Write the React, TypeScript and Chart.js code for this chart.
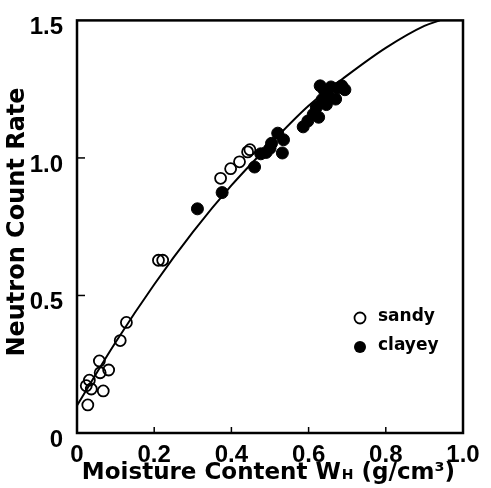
import React, { useEffect, useRef } from "react";
import { Chart, registerables } from "chart.js";
Chart.register(...registerables);

// Fitted calibration curve
const curveX = [0, 0.1, 0.2, 0.3, 0.4, 0.5, 0.6, 0.7, 0.8, 0.9, 0.94];
const curveY = [0.1, 0.33, 0.54, 0.73, 0.9, 1.05, 1.19, 1.3, 1.4, 1.48, 1.5];

// sandy soils (open circles)
const sandyX = [0.128, 0.112, 0.058, 0.082, 0.06, 0.032, 0.024, 0.037, 0.068, 0.028, 0.211, 0.222, 0.372, 0.398, 0.421, 0.442, 0.448];
const sandyY = [0.402, 0.336, 0.262, 0.229, 0.219, 0.192, 0.172, 0.16, 0.153, 0.102, 0.628, 0.628, 0.926, 0.961, 0.986, 1.022, 1.03];

// clayey soils (filled circles)
const clayeyX = [0.312, 0.376, 0.46, 0.476, 0.49, 0.5, 0.504, 0.52, 0.535, 0.532, 0.586, 0.598, 0.612, 0.62, 0.626, 0.635, 0.64, 0.65, 0.658, 0.67, 0.676, 0.686, 0.694, 0.63, 0.646];
const clayeyY = [0.815, 0.874, 0.967, 1.015, 1.02, 1.035, 1.053, 1.09, 1.066, 1.018, 1.113, 1.134, 1.158, 1.184, 1.148, 1.212, 1.247, 1.228, 1.258, 1.214, 1.254, 1.262, 1.248, 1.262, 1.194];

const xTicks = [0, 0.2, 0.4, 0.6, 0.8, 1.0];
const yTicks = [0, 0.5, 1.0, 1.5];
const xTitle1 = "Moisture Content W";
const xTitleSub = "H";
const xTitle2 = " (g/cm³)";
const yTitle = "Neutron Count Rate";
const legendLabels = ["sandy", "clayey"];

const TICK_FONT = "'Liberation Sans', Arial, sans-serif";
const TITLE_FONT = "'DejaVu Sans', sans-serif";

const fmt = (v: number) => (v === 0 ? "0" : v.toFixed(1));

const framePlugin = {
  id: "frame",
  afterDraw(chart: any) {
    const { ctx, chartArea: a, scales } = chart;
    ctx.save();
    ctx.strokeStyle = "#000";
    ctx.lineWidth = 2.5;
    ctx.strokeRect(a.left, a.top, a.right - a.left, a.bottom - a.top);
    // inward ticks
    ctx.lineWidth = 1.5;
    xTicks.slice(1, -1).forEach((v) => {
      const px = scales.x.getPixelForValue(v);
      ctx.beginPath();
      ctx.moveTo(px, a.bottom);
      ctx.lineTo(px, a.bottom - 6);
      ctx.stroke();
    });
    yTicks.slice(1, -1).forEach((v) => {
      const py = scales.y.getPixelForValue(v);
      ctx.beginPath();
      ctx.moveTo(a.left, py);
      ctx.lineTo(a.left + 8, py);
      ctx.stroke();
    });
    ctx.fillStyle = "#000";
    // y title
    ctx.save();
    ctx.translate(18, 222);
    ctx.rotate(-Math.PI / 2);
    ctx.font = `bold 24px ${TITLE_FONT}`;
    ctx.textAlign = "center";
    ctx.textBaseline = "middle";
    ctx.fillText(yTitle, 0, 0);
    ctx.restore();
    // x title
    const big = `bold 23px ${TITLE_FONT}`;
    const small = `bold 14px ${TITLE_FONT}`;
    ctx.textBaseline = "alphabetic";
    ctx.textAlign = "left";
    ctx.font = big;
    const w1 = ctx.measureText(xTitle1).width;
    const w3 = ctx.measureText(xTitle2).width;
    ctx.font = small;
    const w2 = ctx.measureText(xTitleSub).width;
    let x0 = 268 - (w1 + w2 + w3) / 2;
    const base = 479;
    ctx.font = big;
    ctx.fillText(xTitle1, x0, base);
    x0 += w1;
    ctx.font = small;
    ctx.fillText(xTitleSub, x0 + 1, base);
    x0 += w2 + 1;
    ctx.font = big;
    ctx.fillText(xTitle2, x0, base);
    // legend
    ctx.font = `bold 17px ${TITLE_FONT}`;
    ctx.textBaseline = "middle";
    const ly = [318, 347];
    ctx.lineWidth = 1.8;
    ctx.beginPath();
    ctx.arc(360, ly[0], 5.5, 0, Math.PI * 2);
    ctx.stroke();
    ctx.beginPath();
    ctx.arc(360, ly[1], 6, 0, Math.PI * 2);
    ctx.fill();
    ctx.fillText(legendLabels[0], 378, ly[0] - 1);
    ctx.fillText(legendLabels[1], 378, ly[1] - 1);
    ctx.restore();
  },
};

export default function App() {
  const ref = useRef<HTMLCanvasElement>(null);
  useEffect(() => {
    document.body.style.margin = "0";
    const chart = new Chart(ref.current!, {
      type: "scatter",
      data: {
        datasets: [
          {
            label: "curve",
            data: curveX.map((x, i) => ({ x, y: curveY[i] })),
            showLine: true,
            borderColor: "#000",
            borderWidth: 2,
            pointRadius: 0,
            cubicInterpolationMode: "monotone",
            fill: false,
          } as any,
          {
            label: "sandy",
            data: sandyX.map((x, i) => ({ x, y: sandyY[i] })),
            pointRadius: 5.5,
            pointBackgroundColor: "rgba(0,0,0,0)",
            pointBorderColor: "#000",
            pointBorderWidth: 1.8,
          },
          {
            label: "clayey",
            data: clayeyX.map((x, i) => ({ x, y: clayeyY[i] })),
            pointRadius: 6,
            pointBackgroundColor: "#000",
            pointBorderColor: "#000",
            pointBorderWidth: 1,
          },
        ],
      },
      options: {
        animation: false,
        responsive: false,
        layout: { padding: { top: 9, right: 28, left: 0, bottom: 0 } },
        plugins: { legend: { display: false }, tooltip: { enabled: false } },
        scales: {
          x: {
            type: "linear",
            min: 0,
            max: 1,
            afterBuildTicks: (s: any) => {
              s.ticks = xTicks.map((v) => ({ value: v }));
            },
            ticks: {
              callback: (v: any) => fmt(Number(v)),
              font: { family: TICK_FONT, size: 24, weight: "bold" },
              color: "#000",
              padding: 0,
              maxRotation: 0,
            },
            grid: { display: false },
            border: { display: false },
            afterFit: (s: any) => {
              s.height = 55;
            },
          },
          y: {
            type: "linear",
            min: 0,
            max: 1.5,
            afterBuildTicks: (s: any) => {
              s.ticks = yTicks.map((v) => ({ value: v }));
            },
            ticks: {
              callback: (v: any) => fmt(Number(v)),
              font: { family: TICK_FONT, size: 24, weight: "bold" },
              color: "#000",
              padding: 6,
              labelOffset: 7,
            },
            grid: { display: false },
            border: { display: false },
            afterFit: (s: any) => {
              s.width = 77;
            },
          },
        },
      },
      plugins: [framePlugin],
    });
    return () => chart.destroy();
  }, []);
  return <canvas ref={ref} width={491} height={488} style={{ display: "block" }} />;
}
